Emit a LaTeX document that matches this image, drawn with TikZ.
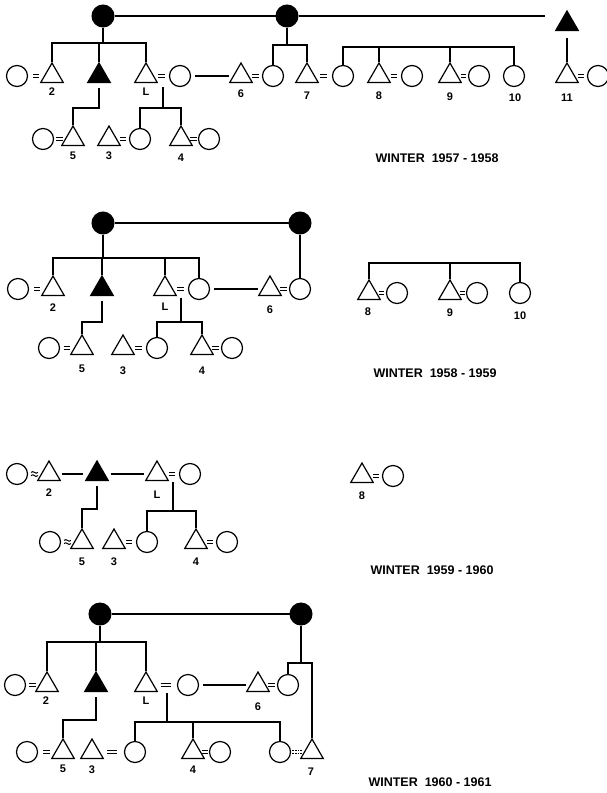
\documentclass[tikz,border=0pt]{standalone}
\usepackage{fontspec}
\setmainfont{Liberation Sans}
\usetikzlibrary{shapes.geometric,calc}
\tikzset{
  ln/.style={line width=1.2pt},
  tri/.style={regular polygon, regular polygon sides=3, minimum size=26pt, inner sep=0pt, draw, line width=1.2pt},
  ftri/.style={tri, fill=black},
  circ/.style={circle, minimum size=21pt, inner sep=0pt, draw, line width=1.2pt},
  fcirc/.style={circle, minimum size=22pt, inner sep=0pt, fill=black, draw, line width=1pt},
  lbl/.style={font=\bfseries\fontsize{11}{11}\selectfont, inner sep=0pt},
  ttl/.style={font=\bfseries\fontsize{12.5}{12.5}\selectfont, inner sep=0pt},
  eqm/.style={double, double distance=2.2pt, line width=1.1pt},
  gapline/.style={ln, shorten <=4pt, shorten >=4pt},
}
\newcommand{\eqsign}[3][6.4]{\draw[eqm] ($(#2.east)!0.5!(#3.west)+(-#1/2,0)$) -- ++(#1,0);}
\newcommand{\deqsign}[3][10]{\draw[eqm, dash pattern=on 1.6pt off 1pt] ($(#2.east)!0.5!(#3.west)+(-#1/2,0)$) -- ++(#1,0);}
\newcommand{\wavesign}[2]{%
  \coordinate (wv) at ($(#1.east)!0.5!(#2.west)$);
  \draw[line width=1pt] ($(wv)+(-3.4,-1.6)$) sin ++(1.7,-0.8) cos ++(1.7,0.8) sin ++(1.7,0.8) cos ++(1.7,-0.8);
  \draw[line width=1pt] ($(wv)+(-3.4,1.6)$) sin ++(1.7,-0.8) cos ++(1.7,0.8) sin ++(1.7,0.8) cos ++(1.7,-0.8);}
\begin{document}
\begin{tikzpicture}[x=1pt,y=-1pt]
\useasboundingbox (0,0) rectangle (607,793);
% ================= PANEL 1 =================
\node[fcirc] (A1) at (103,16) {};
\node[fcirc] (B1) at (287,16) {};
\node[ftri] (C1) at (567,24) {};
\draw[ln] (A1) -- (B1);
\draw[ln, shorten >=14pt] (B1.east) -- (B1.east -| C1.west);
\node[circ] (c1a) at (17,76) {};
\node[tri] (t1b) at (52,76) {};
\node[lbl] (l1b) at (52,92) {2};
\node[ftri] (f1) at (99,76) {};
\node[tri] (tL1) at (146,76) {};
\node[lbl] (lL1) at (146,92) {L};
\node[circ] (wL1) at (180,76) {};
\node[tri] (t61) at (241,76) {};
\node[circ] (w61) at (273,76) {};
\node[lbl] (l61) at (241,94) {6};
\node[tri] (t71) at (307,76) {};
\node[circ] (w71) at (343,76) {};
\node[lbl] (l71) at (307,96) {7};
\node[tri] (t81) at (379,76) {};
\node[circ] (w81) at (412,76) {};
\node[lbl] (l81) at (379,96) {8};
\node[tri] (t91) at (450,76) {};
\node[circ] (w91) at (479,76) {};
\node[lbl] (l91) at (450,97) {9};
\node[circ] (c101) at (514,76) {};
\node[lbl] (l101) at (515,98) {10};
\node[tri] (t111) at (567,76) {};
\node[circ] (w111) at (598,76) {};
\node[lbl] (l111) at (567,98) {11};
\coordinate (k11) at (103,43);
\draw[ln] (A1.south) -- (k11);
\draw[ln] (t1b.north) |- (k11) -| (tL1.north);
\draw[ln] (f1.north) -- (f1.north |- k11);
\coordinate (k12) at (287,45);
\draw[ln] (B1.south) -- (k12);
\draw[ln] (w61.north) |- (k12) -| (t71.north);
\coordinate (k13) at (420,47);
\draw[ln] (w71.north) |- (k13) -| (c101.north);
\draw[ln] (t81.north) -- (t81.north |- k13);
\draw[ln] (t91.north) -- (t91.north |- k13);
\draw[ln, shorten <=7pt] (C1.south) -- (t111.north);
\draw[gapline] (wL1.east) -- (t61.west);
\eqsign{c1a}{t1b}
\eqsign{tL1}{wL1}
\eqsign{t61}{w61}
\eqsign{t71}{w71}
\eqsign{t81}{w81}
\eqsign[5]{t91}{w91}
\eqsign{t111}{w111}
\node[circ] (c51) at (43,139) {};
\node[tri] (t51) at (73,139) {};
\node[lbl] (l51) at (73,156) {5};
\node[tri] (t31) at (109,139) {};
\node[circ] (w31) at (140,139) {};
\node[lbl] (l31) at (109,156) {3};
\node[tri] (t41) at (181,139) {};
\node[circ] (w41) at (209,139) {};
\node[lbl] (l41) at (181,158) {4};
\coordinate (k14) at (99,108);
\draw[ln, shorten <=5pt] (f1.south) -- (k14) -| (t51.north);
\coordinate (m11) at (163,87);
\coordinate (k15) at (163,108);
\draw[ln] (m11) -- (k15);
\draw[ln] (w31.north) |- (k15) -| (t41.north);
\eqsign{c51}{t51}
\eqsign{t31}{w31}
\eqsign{t41}{w41}
\node[ttl] (ti1) at (437,158) {WINTER\ \ 1957 - 1958};
% ================= PANEL 2 =================
\node[fcirc] (A2) at (103,223) {};
\node[fcirc] (B2) at (300,223) {};
\draw[ln] (A2) -- (B2);
\node[circ] (c22) at (18,289) {};
\node[tri] (t22) at (53,289) {};
\node[lbl] (l22) at (53,308) {2};
\node[ftri] (f2) at (102,289) {};
\node[tri] (tL2) at (165,289) {};
\node[circ] (wL2) at (199,289) {};
\node[lbl] (lL2) at (165,307) {L};
\node[tri] (t62) at (270,289) {};
\node[circ] (w62) at (300,289) {};
\node[lbl] (l62) at (270,310) {6};
\node[tri] (t82) at (369,293) {};
\node[circ] (w82) at (397,293) {};
\node[lbl] (l82) at (368,312) {8};
\node[tri] (t92) at (450,293) {};
\node[circ] (w92) at (477,293) {};
\node[lbl] (l92) at (450,313) {9};
\node[circ] (c102) at (520,293) {};
\node[lbl] (l102) at (520,316) {10};
\coordinate (k21) at (103,258);
\draw[ln] (A2.south) -- (k21);
\draw[ln] (t22.north) |- (k21) -| (wL2.north);
\draw[ln] (f2.north) -- (f2.north |- k21);
\draw[ln] (tL2.north) -- (tL2.north |- k21);
\draw[ln] (B2.south) -- (w62.north);
\draw[gapline] (wL2.east) -- (t62.west);
\coordinate (k22) at (450,263);
\draw[ln] (t82.north) |- (k22) -| (c102.north);
\draw[ln] (t92.north) -- (k22);
\eqsign{c22}{t22}
\eqsign{tL2}{wL2}
\eqsign{t62}{w62}
\eqsign[5]{t82}{w82}
\eqsign[5]{t92}{w92}
\node[circ] (c52) at (49,348) {};
\node[tri] (t52) at (82,348) {};
\node[lbl] (l52) at (82,369) {5};
\node[tri] (t32) at (123,348) {};
\node[circ] (w32) at (157,348) {};
\node[lbl] (l32) at (123,371) {3};
\node[tri] (t42) at (202,348) {};
\node[circ] (w42) at (232,348) {};
\node[lbl] (l42) at (202,371) {4};
\coordinate (k23) at (102,322);
\draw[ln, shorten <=5pt] (f2.south) -- (k23) -| (t52.north);
\coordinate (m21) at (181,298);
\coordinate (k24) at (181,322);
\draw[ln] (m21) -- (k24);
\draw[ln] (w32.north) |- (k24) -| (t42.north);
\eqsign{c52}{t52}
\eqsign{t32}{w32}
\eqsign{t42}{w42}
\node[ttl] (ti2) at (435,373) {WINTER\ \ 1958 - 1959};
% ================= PANEL 3 =================
\node[circ] (c33) at (17,474) {};
\node[tri] (t23) at (49,474) {};
\node[lbl] (l23) at (49,493) {2};
\node[ftri] (f3) at (97,474) {};
\node[tri] (tL3) at (157,474) {};
\node[circ] (wL3) at (190,474) {};
\node[lbl] (lL3) at (157,495) {L};
\node[tri] (t83) at (362,476) {};
\node[circ] (w83) at (393,476) {};
\node[lbl] (l83) at (362,496) {8};
\draw[ln, shorten <=5pt, shorten >=6pt] (t23.east) -- (f3.west);
\draw[ln, shorten <=6pt, shorten >=5pt] (f3.east) -- (tL3.west);
\wavesign{c33}{t23}
\eqsign{tL3}{wL3}
\eqsign{t83}{w83}
\node[circ] (c53) at (50,542) {};
\node[tri] (t53) at (82,542) {};
\node[lbl] (l53) at (82,562) {5};
\node[tri] (t33) at (114,542) {};
\node[circ] (w33) at (147,542) {};
\node[lbl] (l33) at (114,562) {3};
\node[tri] (t43) at (196,542) {};
\node[circ] (w43) at (227,542) {};
\node[lbl] (l43) at (196,562) {4};
\coordinate (k31) at (97,509);
\draw[ln, shorten <=5pt] (f3.south) -- (k31) -| (t53.north);
\coordinate (m31) at (173,482);
\coordinate (k32) at (173,511);
\draw[ln] (m31) -- (k32);
\draw[ln] (w33.north) |- (k32) -| (t43.north);
\wavesign{c53}{t53}
\eqsign{t33}{w33}
\eqsign{t43}{w43}
\node[ttl] (ti3) at (432,570) {WINTER\ \ 1959 - 1960};
% ================= PANEL 4 =================
\node[fcirc] (A4) at (100,614) {};
\node[fcirc] (B4) at (301,614) {};
\draw[ln] (A4) -- (B4);
\node[circ] (c44) at (15,685) {};
\node[tri] (t24) at (47,685) {};
\node[lbl] (l24) at (46,701) {2};
\node[ftri] (f4) at (96,685) {};
\node[tri] (tL4) at (146,685) {};
\node[circ] (wL4) at (188,685) {};
\node[lbl] (lL4) at (146,701) {L};
\node[tri] (t64) at (258,685) {};
\node[circ] (w64) at (288,685) {};
\node[lbl] (l64) at (258,707) {6};
\coordinate (k41) at (100,642);
\draw[ln] (A4.south) -- (k41);
\draw[ln] (t24.north) |- (k41) -| (tL4.north);
\draw[ln] (f4.north) -- (f4.north |- k41);
\coordinate (k42) at (301,663);
\draw[ln] (B4.south) -- (k42);
\draw[gapline] (wL4.east) -- (t64.west);
\eqsign{c44}{t24}
\eqsign[10]{tL4}{wL4}
\eqsign{t64}{w64}
\node[circ] (c54) at (27,752) {};
\node[tri] (t54) at (63,752) {};
\node[lbl] (l54) at (63,769) {5};
\node[tri] (t34) at (92,752) {};
\node[circ] (w34) at (135,752) {};
\node[lbl] (l34) at (92,770) {3};
\node[tri] (t44) at (193,752) {};
\node[circ] (w44) at (220,752) {};
\node[lbl] (l44) at (193,770) {4};
\node[circ] (w74) at (280,752) {};
\node[tri] (t74) at (312,752) {};
\node[lbl] (l74) at (311,772) {7};
\draw[ln] (w64.north) |- (k42) -| (t74.north);
\coordinate (k43) at (96,720);
\draw[ln, shorten <=5pt] (f4.south) -- (k43) -| (t54.north);
\coordinate (m41) at (167,693);
\coordinate (k44) at (167,722);
\draw[ln] (m41) -- (k44);
\draw[ln] (w34.north) |- (k44) -| (w74.north);
\draw[ln] (t44.north) -- (t44.north |- k44);
\eqsign{c54}{t54}
\eqsign[10]{t34}{w34}
\eqsign{t44}{w44}
\deqsign{w74}{t74}
\node[ttl] (ti4) at (430,782) {WINTER\ \ 1960 - 1961};
\end{tikzpicture}
\end{document}
